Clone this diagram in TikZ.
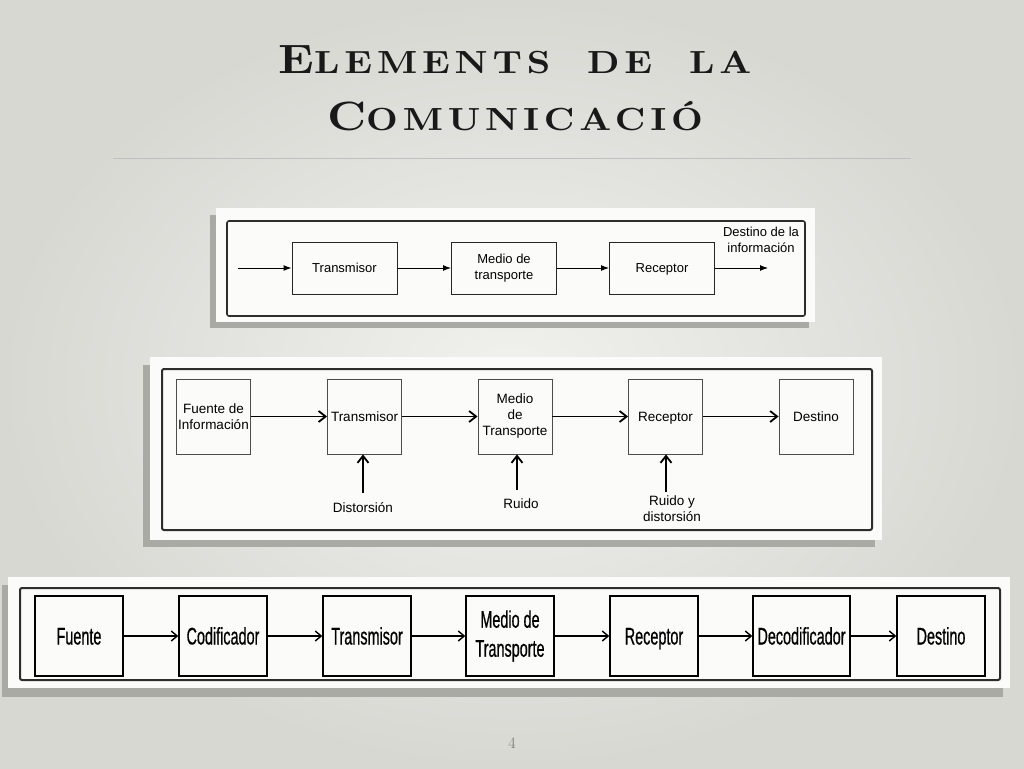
\documentclass[tikz,border=0pt]{standalone}
\usepackage{fontspec}
\usetikzlibrary{arrows.meta}
\newfontfamily\arialA{Liberation Sans}
\newfontfamily\arialN[FakeStretch=0.6,FakeBold=0.6]{Liberation Sans}
\newfontfamily\titlefont[LetterSpace=15,FakeStretch=1.15,BoldFont=lmroman10-bold.otf,BoldFeatures={FakeStretch=1.15,LetterSpace=15}]{lmroman10-regular.otf}
\newcommand\tbig[1]{{\fontsize{41}{41}\selectfont #1}}
\newcommand\tsmall[1]{{\fontsize{32}{32}\selectfont #1}}
\definecolor{bgin}{RGB}{241,241,238}
\definecolor{bgout}{RGB}{216,216,211}
\definecolor{shadowc}{RGB}{170,170,164}
\definecolor{panelc}{RGB}{251,251,250}
\definecolor{framec}{RGB}{45,45,45}
\tikzset{
  x=1pt,y=-1pt,
  panel/.style={fill=panelc},
  shadowbox/.style={fill=shadowc},
  frameA/.style={draw=framec,line width=1.6pt,rounded corners=2pt},
  oneA/.style={text height=9.3pt,text depth=0pt},
  oneB/.style={text height=9.7pt,text depth=0pt},
  oneC/.style={text height=17pt,text depth=0pt},
  boxA/.style={draw=black!85,line width=1pt,minimum width=105pt,minimum height=52pt,inner sep=0pt,align=center,font=\arialA\fontsize{13}{16}\selectfont},
  arrA/.style={draw=black,line width=1pt,-{Latex[length=8pt,width=6pt]}},
  boxB/.style={draw=black!70,line width=0.9pt,minimum width=74pt,minimum height=75pt,inner sep=0pt,align=center,font=\arialA\fontsize{13.5}{16}\selectfont},
  arrB/.style={draw=black,line width=1.8pt,-{Straight Barb[length=7pt,width=11pt,line width=1.8pt]}},
  lblB/.style={align=center,inner sep=0pt,font=\arialA\fontsize{13.5}{16}\selectfont},
  boxC/.style={draw=black,line width=1.4pt,minimum height=80pt,inner sep=0pt,align=center,font=\arialN\fontsize{24}{29}\selectfont},
  arrC/.style={draw=black,line width=1.4pt,-{Straight Barb[length=6pt,width=10pt,line width=1.4pt]}},
  titlestyle/.style={inner sep=0pt,text=black!90,font=\titlefont\bfseries},
}
\begin{document}
\begin{tikzpicture}
\useasboundingbox (0,0) rectangle (1024,768);
\shade[inner color=bgin,outer color=bgout] (0,0) rectangle (1024,768);

% title
\node[titlestyle,anchor=base] (t1) at (515,73) {\tbig{E}\tsmall{LEMENTS\hspace{18pt} DE\hspace{18pt} LA}};
\node[titlestyle,anchor=base] (t2) at (515,130) {\tbig{C}\tsmall{OMUNICACIÓ}};
\draw[draw=black!25,line width=0.8pt] (113,158) -- (911,158);

% ---------- diagram 1 ----------
\fill[shadowbox] (210,215) rectangle (809,328);
\fill[panel] (216,208) rectangle (815,322);
\draw[frameA] (227,221) rectangle (805,316);
\node[boxA,oneA] (a1) at (344.5,268) {Transmisor};
\node[boxA] (a2) at (504,268) {Medio de\\transporte};
\node[boxA,oneA] (a3) at (662,268) {Receptor};
\coordinate (a0) at (238,268);
\coordinate (a4) at (768,268);
\node[lblB,font=\arialA\fontsize{13}{16}\selectfont] (adest) at (761,240) {Destino de la\\información};
\draw[arrA] (a0) -- (a1);
\draw[arrA] (a1) -- (a2);
\draw[arrA] (a2) -- (a3);
\draw[arrA] (a3) -- (a4);

% ---------- diagram 2 ----------
\fill[shadowbox] (143,365) rectangle (875,547);
\fill[panel] (150,357) rectangle (882,540);
\draw[frameA,line width=2pt] (162,369) rectangle (872,530);
\node[boxB] (b1) at (213.5,416.5) {Fuente de\\Información};
\node[boxB,oneB] (b2) at (364.5,416.5) {Transmisor};
\node[boxB] (b3) at (515,416.5) {Medio\\de\\Transporte};
\node[boxB,oneB] (b4) at (665.5,416.5) {Receptor};
\node[boxB,oneB] (b5) at (816,416.5) {Destino};
\draw[arrB] (b1) -- (b2);
\draw[arrB] (b2) -- (b3);
\draw[arrB] (b3) -- (b4);
\draw[arrB] (b4) -- (b5);
\node[lblB] (n1) at (363,508) {Distorsión};
\node[lblB] (n2) at (521,504) {Ruido};
\node[lblB] (n3) at (672,509) {Ruido y\\distorsión};
\coordinate (c1) at (363,493);
\coordinate (c2) at (517,490);
\coordinate (c3) at (666,492);
\draw[arrB] (c1) -- (c1 |- b2.south);
\draw[arrB] (c2) -- (c2 |- b3.south);
\draw[arrB] (c3) -- (c3 |- b4.south);

% ---------- diagram 3 ----------
\fill[shadowbox] (2,585) rectangle (1003,697);
\fill[panel] (8,577) rectangle (1010,688);
\draw[frameA,line width=2pt] (20,588) rectangle (1000,680);
\node[boxC,oneC,minimum width=88pt] (d1) at (79,636) {Fuente};
\node[boxC,oneC,minimum width=88pt] (d2) at (223,636) {Codificador};
\node[boxC,oneC,minimum width=88pt] (d3) at (367,636) {Transmisor};
\node[boxC,minimum width=88pt] (d4) at (510,636) {Medio de\\Transporte};
\node[boxC,oneC,minimum width=88pt] (d5) at (654,636) {Receptor};
\node[boxC,oneC,minimum width=97pt] (d6) at (801.5,636) {Decodificador};
\node[boxC,oneC,minimum width=88pt] (d7) at (941,636) {Destino};
\draw[arrC] (d1) -- (d2);
\draw[arrC] (d2) -- (d3);
\draw[arrC] (d3) -- (d4);
\draw[arrC] (d4) -- (d5);
\draw[arrC] (d5) -- (d6);
\draw[arrC] (d6) -- (d7);

% page number
\node[text=black!55,font=\fontsize{16}{16}\selectfont] (pg) at (512,743) {4};
\end{tikzpicture}
\end{document}
